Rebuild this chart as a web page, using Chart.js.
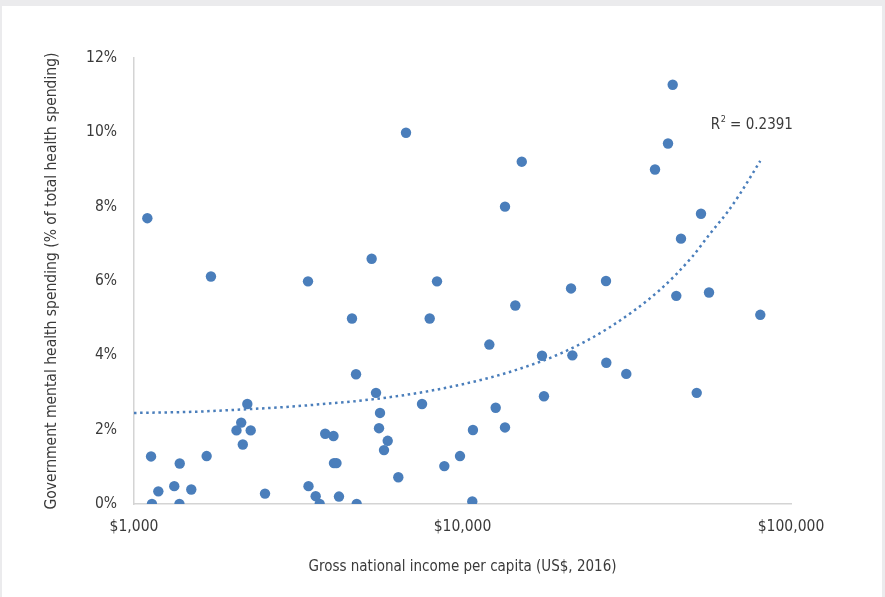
<!DOCTYPE html>
<html>
<head>
<meta charset="utf-8">
<script src="https://cdn.jsdelivr.net/npm/chart.js@4/dist/chart.umd.min.js"></script>
<style>
  html, body { margin: 0; padding: 0; background: #ebebed; }
  #panel { position: absolute; left: 2px; top: 6px; right: 3px; bottom: 0; background: #fff; }
  #wrap { position: absolute; left: 0; top: 0; width: 885px; height: 597px; }
</style>
</head>
<body>
<div id="panel"></div>
<div id="wrap"><canvas id="chart" width="885" height="597"></canvas></div>
<script>
// ---------------------------------------------------------------------------
// Data
// ---------------------------------------------------------------------------
// Gross national income per capita, US$ 2016
const gni = [
  1098, 1715, 1127, 1134, 1186, 1326, 1378, 1375, 1494, 1664,
  2051, 2120, 2266, 2144, 2213, 2505, 3386, 3398, 3573, 3675,
  3820, 4048, 4062, 4134, 4207, 4609, 4741, 4764, 5290, 5454,
  5609, 5570, 5920, 5768, 6377, 6730, 7530, 7946, 8364, 8804,
  9826, 10760, 10710, 12070, 12620, 13470, 13470, 14480, 15150, 17460,
  17700, 21400, 21600, 27340, 27400, 31520, 38550, 42230, 43640, 44750,
  46250, 51640, 53210, 56290, 80640
];
// Government mental health spending, % of total health spending
const mhSpend = [
  7.69, 6.12, 1.28, 0.0, 0.34, 0.48, 1.09, 0.0, 0.39, 1.29,
  1.98, 2.19, 1.98, 1.60, 2.69, 0.28, 5.99, 0.48, 0.21, 0.0,
  1.89, 1.83, 1.10, 1.10, 0.20, 4.99, 3.49, 0.0, 6.60, 2.99,
  2.45, 2.04, 1.70, 1.45, 0.72, 9.99, 2.69, 4.99, 5.99, 1.02,
  1.29, 1.99, 0.07, 4.29, 2.59, 8.00, 2.06, 5.34, 9.21, 3.99,
  2.90, 5.80, 4.00, 6.00, 3.80, 3.50, 9.00, 9.70, 11.28, 5.60,
  7.14, 2.99, 7.81, 5.69, 5.09
];

// Dotted trend line
const trendX = [1000, 1500, 2000, 3000, 4000, 5000, 7000, 10000, 14000, 20000, 28000, 40000, 50000, 57000, 64000, 70000, 80600];
const trendY = [2.45, 2.48, 2.53, 2.62, 2.71, 2.79, 2.96, 3.22, 3.56, 4.06, 4.75, 5.77, 6.65, 7.30, 7.85, 8.35, 9.23];

const xTicks = [1000, 10000, 100000];
const rSquared = "0.2391";

const xTitle = "Gross national income per capita (US$, 2016)";
const yTitle = "Government mental health spending (% of total health spending)";

// ---------------------------------------------------------------------------
// Font pick: the original uses a condensed sans, use the narrowest one we have
// ---------------------------------------------------------------------------
const probe = document.createElement("canvas").getContext("2d");
function widthOf(font, txt) { probe.font = font; return probe.measureText(txt).width; }
function hasFont(fam) {
  return widthOf("18px '" + fam + "', monospace", xTitle) !== widthOf("18px monospace", xTitle);
}

let FAMILY = "'Liberation Sans', Arial, sans-serif";
let STRETCH = "";
for (const fam of ["Liberation Sans Narrow", "Arial Narrow", "DejaVu Sans Condensed", "Roboto Condensed"]) {
  if (hasFont(fam)) { FAMILY = "'" + fam + "', sans-serif"; break; }
}
if (FAMILY.startsWith("'Liberation Sans'")) {
  const normal = widthOf("18px 'DejaVu Sans'", xTitle);
  const cond = widthOf("condensed 18px 'DejaVu Sans'", xTitle);
  if (cond < normal * 0.95) { FAMILY = "'DejaVu Sans', sans-serif"; STRETCH = "condensed"; }
}
const PRE = STRETCH ? STRETCH + " " : "";
// size each text so it is as long as in the original
function fitSize(txt, target) {
  return Math.round(18 * target / widthOf(PRE + "18px " + FAMILY, txt) * 2) / 2;
}
const FS_TITLE = fitSize(xTitle, 312);
const FS_YTITLE = fitSize(yTitle, 450);
const FS_TICK = fitSize("$10,000", 58);
const FS_R2 = fitSize("R = 0.2391", 77);

const TEXT = "#3a3a3a";
const BLUE = "#4a7ebb";

Chart.defaults.font.family = FAMILY;
if (STRETCH) Chart.defaults.font.weight = STRETCH;
Chart.defaults.color = TEXT;

const rSquaredLabel = {
  id: "rSquaredLabel",
  afterDatasetsDraw(chart) {
    const { ctx, scales: { x, y } } = chart;
    const px = x.getPixelForValue(57000);
    const py = y.getPixelForValue(10.2);
    ctx.save();
    ctx.fillStyle = TEXT;
    ctx.textBaseline = "middle";
    ctx.textAlign = "left";
    ctx.font = PRE + FS_R2 + "px " + FAMILY;
    ctx.fillText("R", px, py);
    const w1 = ctx.measureText("R").width;
    ctx.font = PRE + Math.round(FS_R2 * 0.6) + "px " + FAMILY;
    ctx.fillText("2", px + w1 + 0.5, py - 5);
    const w2 = ctx.measureText("2").width;
    ctx.font = PRE + FS_R2 + "px " + FAMILY;
    ctx.fillText(" = " + rSquared, px + w1 + w2 + 0.5, py);
    ctx.restore();
  }
};

new Chart(document.getElementById("chart"), {
  type: "scatter",
  data: {
    datasets: [
      {
        label: "Trend",
        type: "line",
        data: trendX.map((v, i) => ({ x: v, y: trendY[i] })),
        borderColor: BLUE,
        borderWidth: 2.5,
        borderDash: [2.5, 3.6],
        pointRadius: 0,
        cubicInterpolationMode: "monotone",
        fill: false,
        order: 0,
      },
      {
        label: "Countries",
        data: gni.map((v, i) => ({ x: v, y: mhSpend[i] })),
        backgroundColor: BLUE,
        borderWidth: 0,
        pointRadius: 5.2,
        order: 1,
      }
    ]
  },
  options: {
    responsive: false,
    animation: false,
    layout: { padding: { top: 58, right: 94, left: 0, bottom: 0 } },
    plugins: { legend: { display: false }, tooltip: { enabled: false } },
    scales: {
      x: {
        type: "logarithmic",
        min: 1000,
        max: 100000,
        afterBuildTicks: axis => { axis.ticks = xTicks.map(v => ({ value: v })); },
        afterFit: axis => { axis.height = 93; },
        grid: { display: false, drawTicks: false },
        border: { display: true, color: "#d4d4d4", width: 1.5 },
        ticks: {
          padding: 14,
          font: { size: FS_TICK },
          maxRotation: 0,
          callback: v => "$" + Number(v).toLocaleString("en-US"),
        },
        title: { display: true, text: xTitle, font: { size: FS_TITLE }, padding: { top: 0, bottom: 21 } },
      },
      y: {
        min: 0,
        max: 12,
        afterFit: axis => { axis.width = 134; },
        grid: { display: false, drawTicks: false },
        border: { display: true, color: "#d4d4d4", width: 1.5 },
        ticks: { stepSize: 2, padding: 17, font: { size: FS_TICK }, callback: v => v + "%" },
        title: { display: true, text: yTitle, font: { size: FS_YTITLE }, padding: { top: 43, bottom: 0 } },
      }
    }
  },
  plugins: [rSquaredLabel]
});
</script>
</body>
</html>
